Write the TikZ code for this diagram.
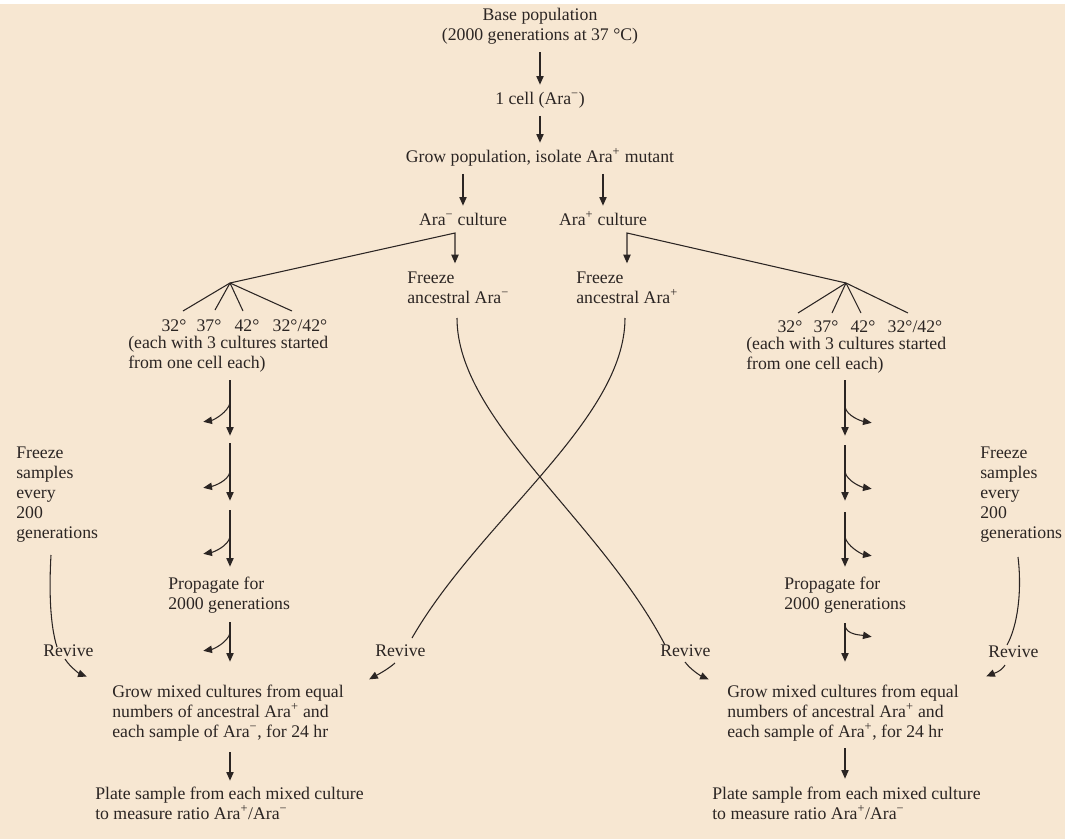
\documentclass[tikz,border=0pt]{standalone}
\usepackage{fontspec}
\setmainfont{Liberation Serif}
\usetikzlibrary{arrows.meta}
\definecolor{paper}{HTML}{F7E7D2}
\definecolor{ink}{HTML}{2B2523}
\newcommand{\aram}{Ara\textsuperscript{−}}
\newcommand{\arap}{Ara\textsuperscript{+}}
\begin{document}
\begin{tikzpicture}[x=0.75pt,y=-0.75pt,
  txt/.style={inner sep=0pt,font=\fontsize{13.3}{15}\selectfont,text=ink,align=left,
    execute at begin node=\strut,execute at end node=\strut},
  ctxt/.style={txt,align=center},
  link/.style={draw=ink,line width=0.8pt},
  arr/.style={link,-{Triangle[length=6.5pt,width=5.5pt]},shorten >=1pt},
  gap/.style={shorten <=4pt,shorten >=4pt},
]
\useasboundingbox (0,0) rectangle (1065,839);
\fill[paper] (0,0) rectangle (1065,839);
\fill[white] (0,0) rectangle (1065,4);

% ---------- common trunk ----------
\node[ctxt,anchor=north] (base) at (540,8) {Base population\\(2000 generations at 37 °C)};
\node[ctxt,anchor=north] (cell) at (540,90) {1 cell (\aram)};
\node[ctxt,anchor=north] (grow) at (540,148) {Grow population, isolate \arap{} mutant};
\node[ctxt,anchor=north] (cultM) at (463,211) {\aram{} culture};
\node[ctxt,anchor=north] (cultP) at (603,211) {\arap{} culture};
\node[txt,anchor=north west] (frzM) at (407,272) {Freeze\\ancestral \aram};
\node[txt,anchor=north west] (frzP) at (576,272) {Freeze\\ancestral \arap};

\draw[arr,gap] (base) -- (cell);
\draw[arr,gap] (cell) -- (grow);
\draw[arr,gap] (grow.south -| cultM) -- (cultM.north);
\draw[arr,gap] (grow.south -| cultP) -- (cultP.north);

% ---------- left branch (Ara- lines) ----------
\coordinate (cM) at (455,233);
\coordinate (bL) at (230,283);
\draw[arr] (bL) -- (cM) -- ([yshift=5.5pt]frzM.north -| cM);

\node[ctxt,anchor=north] (tL1) at (174,317) {32°};
\node[ctxt,anchor=north] (tL2) at (209,317) {37°};
\node[ctxt,anchor=north] (tL3) at (247,317) {42°};
\node[ctxt,anchor=north] (tL4) at (300,317) {32°/42°};
\draw[link] (bL) -- ([shift={(9,-6)}]tL1.north);
\draw[link] (bL) -- ([shift={(6,-7)}]tL2.north);
\draw[link] (bL) -- ([shift={(-4,-6)}]tL3.north);
\draw[link] (bL) -- ([shift={(-8,-6)}]tL4.north);

\node[txt,anchor=north west] (eachL) at (128,336) {(each with 3 cultures started\\from one cell each)};
\node[txt,anchor=north west] (propL) at (168,577) {Propagate for\\2000 generations};
\node[txt,anchor=north west] (fsL) at (16,447) {Freeze\\samples\\every\\200\\generations};
\node[txt,anchor=north west] (rvLL) at (43,642) {Revive};
\node[txt,anchor=north west] (rvLM) at (375,642) {Revive};
\node[txt,anchor=north west] (mixL) at (112,685) {Grow mixed cultures from equal\\numbers of ancestral \arap{} and\\each sample of \aram, for 24 hr};
\node[txt,anchor=north west] (plateL) at (95,787) {Plate sample from each mixed culture\\to measure ratio \arap/\aram};

\foreach \i/\a/\b in {1/380/437,2/443/502,3/510/568,4/622/663,5/752/782}{
  \coordinate (Ls\i) at (230,\a);
  \coordinate (Le\i) at (230,\b);
  \draw[arr] (Ls\i) -- (Le\i);
}
\foreach \i/\s/\e in {1/403/422,2/472/488,3/537/554,4/633/651}{
  \coordinate (Lb\i) at (230,\s);
  \coordinate (Lt\i) at (202,\e);
  \draw[arr] (Lb\i) .. controls +(-2,9) and +(12,-2) .. (Lt\i);
}

% freeze / revive on the far left
\coordinate (fL0) at (51,555);
\coordinate (fL1) at (57,647);
\coordinate (fL2) at (65,659);
\coordinate (fL3) at (88,677);
\draw[link] (fL0) .. controls +(-2,35) and +(-7,-22) .. (fL1);
\draw[arr] (fL2) .. controls +(5,8) and +(-8,-3) .. (fL3);

% ---------- right branch (Ara+ lines) ----------
\coordinate (cP) at (627,233);
\coordinate (bR) at (846,283);
\draw[arr] (bR) -- (cP) -- ([yshift=5.5pt]frzP.north -| cP);

\node[ctxt,anchor=north] (tR1) at (790,318) {32°};
\node[ctxt,anchor=north] (tR2) at (826,318) {37°};
\node[ctxt,anchor=north] (tR3) at (863,318) {42°};
\node[ctxt,anchor=north] (tR4) at (915,318) {32°/42°};
\draw[link] (bR) -- ([shift={(8,-5)}]tR1.north);
\draw[link] (bR) -- ([shift={(6,-5)}]tR2.north);
\draw[link] (bR) -- ([shift={(-2,-5)}]tR3.north);
\draw[link] (bR) -- ([shift={(-7,-5)}]tR4.north);

\node[txt,anchor=north west] (eachR) at (746,337) {(each with 3 cultures started\\from one cell each)};
\node[txt,anchor=north west] (propR) at (784,577) {Propagate for\\2000 generations};
\node[txt,anchor=north west] (fsR) at (980,447) {Freeze\\samples\\every\\200\\generations};
\node[txt,anchor=north west] (rvRR) at (988,643) {Revive};
\node[txt,anchor=north west] (rvRM) at (660,642) {Revive};
\node[txt,anchor=north west] (mixR) at (727,685) {Grow mixed cultures from equal\\numbers of ancestral \arap{} and\\each sample of \arap, for 24 hr};
\node[txt,anchor=north west] (plateR) at (712,787) {Plate sample from each mixed culture\\to measure ratio \arap/\aram};

\foreach \i/\a/\b in {1/380/437,2/445/502,3/512/568,4/623/663,5/748/780}{
  \coordinate (Rs\i) at (845,\a);
  \coordinate (Re\i) at (845,\b);
  \draw[arr] (Rs\i) -- (Re\i);
}
\foreach \i/\s/\e in {1/407/423,2/472/489,3/537/556,4/626/637}{
  \coordinate (Rb\i) at (845,\s);
  \coordinate (Rt\i) at (873,\e);
  \draw[arr] (Rb\i) .. controls +(2,9) and +(-12,-2) .. (Rt\i);
}

% freeze / revive on the far right
\coordinate (fR0) at (1018,557);
\coordinate (fR1) at (1007,645);
\coordinate (fR2) at (1005,665);
\coordinate (fR3) at (985,677);
\draw[link] (fR0) .. controls +(4,33) and +(11,-20) .. (fR1);
\draw[arr] (fR2) .. controls +(-4,7) and +(7,-3) .. (fR3);

% ---------- crossing: ancestors revived against the other line ----------
\coordinate (xA0) at (457,318);
\coordinate (xA1) at (665,645);
\coordinate (xB0) at (625,318);
\coordinate (xB1) at (412,638);
\draw[link] (xA0) .. controls +(0,102) and +(-65,-125) .. (xA1);
\draw[link] (xB0) .. controls +(0,102) and +(68,-118) .. (xB1);

\coordinate (rM0) at (395,663);
\coordinate (rM1) at (368,680);
\coordinate (rP0) at (685,662);
\coordinate (rP1) at (710,680);
\draw[arr] (rM0) .. controls +(-8,7) and +(9,-5) .. (rM1);
\draw[arr] (rP0) .. controls +(6,8) and +(-9,-4) .. (rP1);
\end{tikzpicture}
\end{document}
